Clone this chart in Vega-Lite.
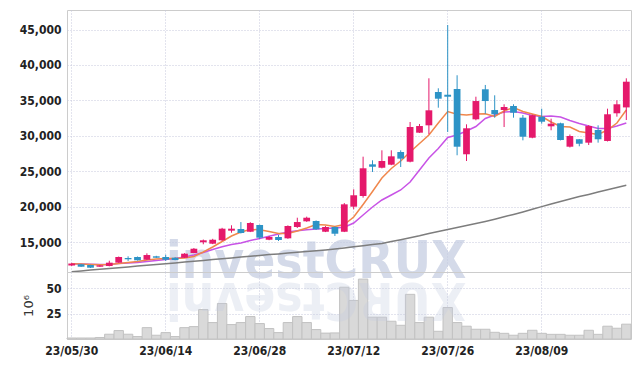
{
  "$schema": "https://vega.github.io/schema/vega-lite/v6.json",
  "padding": {"left": 18, "top": 9, "right": 10, "bottom": 5},
  "spacing": 0,
  "bounds": "flush",
  "background": "#ffffff",
  "config": {
    "view": {"stroke": "#cccccc", "strokeWidth": 1},
    "axis": {
      "labelFont": "DejaVu Sans Condensed",
      "labelFontSize": 12,
      "labelFontWeight": "bold",
      "labelColor": "#222222",
      "gridColor": "#c6c9dc",
      "gridDash": [1, 2],
      "gridWidth": 1,
      "domain": false,
      "ticks": false
    }
  },
  "datasets": {
    "ohlc": [
      {"d": "23/05/30", "o": 11680, "h": 12060, "l": 11610, "c": 11960, "v": 1.0, "ma5": 11935, "ma20": 11935, "ma120": 10805},
      {"d": "23/05/31", "o": 11850, "h": 11900, "l": 11480, "c": 11510, "v": 1.0, "ma5": 11893, "ma20": 11893, "ma120": 10918},
      {"d": "23/06/01", "o": 11750, "h": 11780, "l": 11330, "c": 11370, "v": 1.0, "ma5": 11822, "ma20": 11851, "ma120": 11031},
      {"d": "23/06/02", "o": 11510, "h": 11760, "l": 11480, "c": 11710, "v": 1.5, "ma5": 11780, "ma20": 11822, "ma120": 11144},
      {"d": "23/06/05", "o": 11610, "h": 12360, "l": 11560, "c": 12080, "v": 4.7, "ma5": 11822, "ma20": 11822, "ma120": 11257},
      {"d": "23/06/07", "o": 12080, "h": 12950, "l": 12050, "c": 12880, "v": 8.3, "ma5": 11964, "ma20": 11964, "ma120": 11370},
      {"d": "23/06/08", "o": 12740, "h": 12980, "l": 12320, "c": 12560, "v": 4.7, "ma5": 12105, "ma20": 12034, "ma120": 11483},
      {"d": "23/06/09", "o": 12880, "h": 12950, "l": 12380, "c": 12420, "v": 2.4, "ma5": 12246, "ma20": 12105, "ma120": 11596},
      {"d": "23/06/12", "o": 12500, "h": 13400, "l": 12450, "c": 13160, "v": 11.2, "ma5": 12458, "ma20": 12246, "ma120": 11709},
      {"d": "23/06/13", "o": 12980, "h": 13050, "l": 12750, "c": 12780, "v": 3.7, "ma5": 12599, "ma20": 12387, "ma120": 11822},
      {"d": "23/06/14", "o": 12880, "h": 13200, "l": 12320, "c": 12500, "v": 6.3, "ma5": 12670, "ma20": 12529, "ma120": 11935},
      {"d": "23/06/15", "o": 12780, "h": 12850, "l": 12420, "c": 12460, "v": 2.4, "ma5": 12670, "ma20": 12670, "ma120": 12048},
      {"d": "23/06/16", "o": 12780, "h": 13420, "l": 12740, "c": 13350, "v": 11.2, "ma5": 12740, "ma20": 12881, "ma120": 12175},
      {"d": "23/06/19", "o": 13450, "h": 14150, "l": 13400, "c": 14050, "v": 12.2, "ma5": 12952, "ma20": 13164, "ma120": 12288},
      {"d": "23/06/20", "o": 14960, "h": 15350, "l": 14680, "c": 15240, "v": 29, "ma5": 13588, "ma20": 13517, "ma120": 12401},
      {"d": "23/06/21", "o": 14760, "h": 15450, "l": 14700, "c": 15320, "v": 16.2, "ma5": 14294, "ma20": 13941, "ma120": 12514},
      {"d": "23/06/22", "o": 15240, "h": 17000, "l": 15150, "c": 16880, "v": 35, "ma5": 15071, "ma20": 14322, "ma120": 12641},
      {"d": "23/06/23", "o": 16600, "h": 17360, "l": 16310, "c": 16880, "v": 14.2, "ma5": 15847, "ma20": 14647, "ma120": 12754},
      {"d": "23/06/26", "o": 16840, "h": 17820, "l": 16200, "c": 16270, "v": 16.2, "ma5": 16412, "ma20": 14859, "ma120": 12881},
      {"d": "23/06/27", "o": 16450, "h": 17800, "l": 16400, "c": 17680, "v": 22.1, "ma5": 16766, "ma20": 15212, "ma120": 12994},
      {"d": "23/06/28", "o": 17400, "h": 17450, "l": 15420, "c": 15610, "v": 15.2, "ma5": 16723, "ma20": 15494, "ma120": 13107},
      {"d": "23/06/29", "o": 15320, "h": 15850, "l": 15250, "c": 15710, "v": 10.3, "ma5": 16483, "ma20": 15805, "ma120": 13220},
      {"d": "23/06/30", "o": 15710, "h": 15990, "l": 15140, "c": 15280, "v": 6.3, "ma5": 16201, "ma20": 16130, "ma120": 13319},
      {"d": "23/07/03", "o": 15520, "h": 17350, "l": 15450, "c": 17260, "v": 16.2, "ma5": 16201, "ma20": 16413, "ma120": 13432},
      {"d": "23/07/04", "o": 17120, "h": 18430, "l": 16980, "c": 17820, "v": 22.1, "ma5": 16554, "ma20": 16582, "ma120": 13545},
      {"d": "23/07/05", "o": 17920, "h": 18580, "l": 17850, "c": 18430, "v": 16.2, "ma5": 16978, "ma20": 16723, "ma120": 13644},
      {"d": "23/07/06", "o": 17970, "h": 18050, "l": 16700, "c": 16790, "v": 9.3, "ma5": 17472, "ma20": 16836, "ma120": 13757},
      {"d": "23/07/07", "o": 16450, "h": 17250, "l": 16400, "c": 17120, "v": 5.8, "ma5": 17401, "ma20": 16907, "ma120": 13870},
      {"d": "23/07/10", "o": 17120, "h": 17200, "l": 15850, "c": 16170, "v": 6.0, "ma5": 17189, "ma20": 16978, "ma120": 14011},
      {"d": "23/07/11", "o": 16450, "h": 20500, "l": 16400, "c": 20320, "v": 51, "ma5": 17472, "ma20": 17077, "ma120": 14152},
      {"d": "23/07/12", "o": 19990, "h": 22440, "l": 19620, "c": 21600, "v": 38, "ma5": 18531, "ma20": 17684, "ma120": 14322},
      {"d": "23/07/13", "o": 21500, "h": 27050, "l": 21260, "c": 25410, "v": 59, "ma5": 20297, "ma20": 18814, "ma120": 14477},
      {"d": "23/07/14", "o": 25970, "h": 26540, "l": 24890, "c": 25630, "v": 21.5, "ma5": 22133, "ma20": 19944, "ma120": 14633},
      {"d": "23/07/17", "o": 25490, "h": 27950, "l": 25400, "c": 26440, "v": 21.5, "ma5": 24039, "ma20": 20932, "ma120": 14802},
      {"d": "23/07/18", "o": 25920, "h": 27950, "l": 25850, "c": 27100, "v": 17.5, "ma5": 25381, "ma20": 21639, "ma120": 15056},
      {"d": "23/07/19", "o": 27710, "h": 27950, "l": 25590, "c": 26770, "v": 13.5, "ma5": 26441, "ma20": 22345, "ma120": 15311},
      {"d": "23/07/20", "o": 26340, "h": 31950, "l": 26250, "c": 31240, "v": 44, "ma5": 27712, "ma20": 23475, "ma120": 15593},
      {"d": "23/07/21", "o": 30440, "h": 31670, "l": 30400, "c": 31380, "v": 16.2, "ma5": 28912, "ma20": 25170, "ma120": 15876},
      {"d": "23/07/24", "o": 31480, "h": 38120, "l": 30210, "c": 33600, "v": 21.5, "ma5": 30113, "ma20": 26864, "ma120": 16201},
      {"d": "23/07/25", "o": 36190, "h": 36710, "l": 33970, "c": 35240, "v": 7.6, "ma5": 31808, "ma20": 28206, "ma120": 16483},
      {"d": "23/07/26", "o": 35800, "h": 45650, "l": 30540, "c": 35520, "v": 31, "ma5": 33432, "ma20": 29760, "ma120": 16751},
      {"d": "23/07/27", "o": 36610, "h": 38550, "l": 27250, "c": 28460, "v": 16.2, "ma5": 33037, "ma20": 30113, "ma120": 17034},
      {"d": "23/07/28", "o": 27390, "h": 31620, "l": 26440, "c": 31060, "v": 12.6, "ma5": 32938, "ma20": 30678, "ma120": 17316},
      {"d": "23/07/31", "o": 32330, "h": 35520, "l": 32190, "c": 34910, "v": 9.6, "ma5": 33079, "ma20": 31313, "ma120": 17599},
      {"d": "23/08/01", "o": 36570, "h": 37180, "l": 33120, "c": 34910, "v": 9.6, "ma5": 33121, "ma20": 32443, "ma120": 17909},
      {"d": "23/08/02", "o": 33640, "h": 35720, "l": 32560, "c": 33040, "v": 6.6, "ma5": 32726, "ma20": 32938, "ma120": 18220},
      {"d": "23/08/03", "o": 33640, "h": 34450, "l": 31240, "c": 34070, "v": 5.6, "ma5": 33503, "ma20": 33361, "ma120": 18559},
      {"d": "23/08/04", "o": 34210, "h": 34450, "l": 32560, "c": 33260, "v": 3.7, "ma5": 33997, "ma20": 33432, "ma120": 18898},
      {"d": "23/08/07", "o": 32560, "h": 32940, "l": 29360, "c": 29870, "v": 5.6, "ma5": 33432, "ma20": 33220, "ma120": 19251},
      {"d": "23/08/08", "o": 29730, "h": 33000, "l": 29650, "c": 32900, "v": 8.6, "ma5": 33079, "ma20": 32867, "ma120": 19619},
      {"d": "23/08/09", "o": 32700, "h": 33830, "l": 31710, "c": 31990, "v": 5.6, "ma5": 32726, "ma20": 32726, "ma120": 20000},
      {"d": "23/08/10", "o": 31340, "h": 32420, "l": 30780, "c": 31710, "v": 4.6, "ma5": 31949, "ma20": 32796, "ma120": 20367},
      {"d": "23/08/11", "o": 31770, "h": 31850, "l": 29350, "c": 29410, "v": 4.6, "ma5": 31313, "ma20": 32655, "ma120": 20734},
      {"d": "23/08/14", "o": 28460, "h": 30180, "l": 28350, "c": 29970, "v": 3.7, "ma5": 31243, "ma20": 32161, "ma120": 21074},
      {"d": "23/08/16", "o": 29500, "h": 29550, "l": 28520, "c": 28880, "v": 3.7, "ma5": 30607, "ma20": 31737, "ma120": 21413},
      {"d": "23/08/17", "o": 29030, "h": 31500, "l": 28700, "c": 31380, "v": 8.6, "ma5": 30395, "ma20": 31384, "ma120": 21723},
      {"d": "23/08/18", "o": 30820, "h": 31480, "l": 29030, "c": 29510, "v": 4.6, "ma5": 30183, "ma20": 31031, "ma120": 22062},
      {"d": "23/08/21", "o": 29270, "h": 33830, "l": 29200, "c": 33040, "v": 12.6, "ma5": 30819, "ma20": 31031, "ma120": 22373},
      {"d": "23/08/22", "o": 33180, "h": 35010, "l": 32700, "c": 34450, "v": 10.6, "ma5": 31808, "ma20": 31384, "ma120": 22684},
      {"d": "23/08/23", "o": 34010, "h": 38120, "l": 32230, "c": 37640, "v": 14.6, "ma5": 33644, "ma20": 31808, "ma120": 23009}
    ]
  },
  "vconcat": [
    {
      "width": 564,
      "height": 262,
      "encoding": {
        "x": {
          "field": "d", "type": "ordinal",
          "scale": {"type": "band", "paddingInner": 0, "paddingOuter": 0, "domain": ["23/05/30","23/05/31","23/06/01","23/06/02","23/06/05","23/06/07","23/06/08","23/06/09","23/06/12","23/06/13","23/06/14","23/06/15","23/06/16","23/06/19","23/06/20","23/06/21","23/06/22","23/06/23","23/06/26","23/06/27","23/06/28","23/06/29","23/06/30","23/07/03","23/07/04","23/07/05","23/07/06","23/07/07","23/07/10","23/07/11","23/07/12","23/07/13","23/07/14","23/07/17","23/07/18","23/07/19","23/07/20","23/07/21","23/07/24","23/07/25","23/07/26","23/07/27","23/07/28","23/07/31","23/08/01","23/08/02","23/08/03","23/08/04","23/08/07","23/08/08","23/08/09","23/08/10","23/08/11","23/08/14","23/08/16","23/08/17","23/08/18","23/08/21","23/08/22","23/08/23"]},
          "axis": {"values": ["23/05/30", "23/06/14", "23/06/28", "23/07/12", "23/07/26", "23/08/09"], "labels": false, "title": null, "grid": true, "bandPosition": 0.5}
        }
      },
      "layer": [
        {
          "data": {"values": [{"t": "investCRUX"}]},
          "mark": {"type": "text", "font": "DejaVu Sans Condensed", "fontWeight": "bold", "fontSize": 51, "align": "center", "baseline": "alphabetic", "fill": "#c3cbe0", "opacity": 0.7},
          "encoding": {
            "x": {"datum": "23/07/06"},
            "y": {"datum": 9850, "type": "quantitative", "scale": {"domain": [10763, 47768], "nice": false, "zero": false}, "axis": {"values": [15000, 20000, 25000, 30000, 35000, 40000, 45000], "format": ",d", "title": null, "grid": true, "labelPadding": 6}},
            "text": {"field": "t"}
          }
        },
        {
          "data": {"name": "ohlc"},
          "mark": {"type": "line", "color": "#7d7d7d", "strokeWidth": 1.5},
          "encoding": {
            "y": {"field": "ma120", "type": "quantitative", "scale": {"domain": [10763, 47768], "nice": false, "zero": false}, "axis": {"values": [15000, 20000, 25000, 30000, 35000, 40000, 45000], "format": ",d", "title": null, "grid": true, "labelPadding": 6}}
          }
        },
        {
          "data": {"name": "ohlc"},
          "mark": {"type": "line", "color": "#c853e6", "strokeWidth": 1.5},
          "encoding": {
            "y": {"field": "ma20", "type": "quantitative", "scale": {"domain": [10763, 47768], "nice": false, "zero": false}, "axis": {"values": [15000, 20000, 25000, 30000, 35000, 40000, 45000], "format": ",d", "title": null, "grid": true, "labelPadding": 6}}
          }
        },
        {
          "data": {"name": "ohlc"},
          "mark": {"type": "line", "color": "#f0874c", "strokeWidth": 1.5},
          "encoding": {
            "y": {"field": "ma5", "type": "quantitative", "scale": {"domain": [10763, 47768], "nice": false, "zero": false}, "axis": {"values": [15000, 20000, 25000, 30000, 35000, 40000, 45000], "format": ",d", "title": null, "grid": true, "labelPadding": 6}}
          }
        },
        {
          "data": {"name": "ohlc"},
          "mark": {"type": "rule", "strokeWidth": 1},
          "encoding": {
            "y": {"field": "l", "type": "quantitative", "scale": {"domain": [10763, 47768], "nice": false, "zero": false}, "axis": {"values": [15000, 20000, 25000, 30000, 35000, 40000, 45000], "format": ",d", "title": null, "grid": true, "labelPadding": 6}},
            "y2": {"field": "h"},
            "color": {"condition": {"test": "datum.c >= datum.o", "value": "#e5196b"}, "value": "#2d93c6"}
          }
        },
        {
          "data": {"name": "ohlc"},
          "mark": {"type": "bar", "width": {"band": 0.72}},
          "encoding": {
            "y": {"field": "o", "type": "quantitative", "scale": {"domain": [10763, 47768], "nice": false, "zero": false}, "axis": {"values": [15000, 20000, 25000, 30000, 35000, 40000, 45000], "format": ",d", "title": null, "grid": true, "labelPadding": 6}},
            "y2": {"field": "c"},
            "color": {"condition": {"test": "datum.c >= datum.o", "value": "#e5196b"}, "value": "#2d93c6"}
          }
        }
      ]
    },
    {
      "width": 564,
      "height": 67,
      "encoding": {
        "x": {
          "field": "d", "type": "ordinal",
          "scale": {"type": "band", "paddingInner": 0, "paddingOuter": 0, "domain": ["23/05/30","23/05/31","23/06/01","23/06/02","23/06/05","23/06/07","23/06/08","23/06/09","23/06/12","23/06/13","23/06/14","23/06/15","23/06/16","23/06/19","23/06/20","23/06/21","23/06/22","23/06/23","23/06/26","23/06/27","23/06/28","23/06/29","23/06/30","23/07/03","23/07/04","23/07/05","23/07/06","23/07/07","23/07/10","23/07/11","23/07/12","23/07/13","23/07/14","23/07/17","23/07/18","23/07/19","23/07/20","23/07/21","23/07/24","23/07/25","23/07/26","23/07/27","23/07/28","23/07/31","23/08/01","23/08/02","23/08/03","23/08/04","23/08/07","23/08/08","23/08/09","23/08/10","23/08/11","23/08/14","23/08/16","23/08/17","23/08/18","23/08/21","23/08/22","23/08/23"]},
          "axis": {"values": ["23/05/30", "23/06/14", "23/06/28", "23/07/12", "23/07/26", "23/08/09"], "labels": true, "labelAngle": 0, "labelPadding": 6, "title": null, "grid": true, "bandPosition": 0.5}
        }
      },
      "layer": [
        {
          "data": {"name": "ohlc"},
          "mark": {"type": "bar", "fill": "#d9d9d9", "stroke": "#c2c2c2", "strokeWidth": 1},
          "encoding": {
            "y": {"field": "v", "type": "quantitative", "scale": {"domain": [0, 66], "nice": false}, "axis": {"values": [25, 50], "format": "d", "title": "10⁶", "titleFont": "DejaVu Sans", "titleFontWeight": "normal", "titleFontSize": 13, "titleColor": "#333333", "titlePadding": 10, "grid": true, "labelPadding": 6}}
          }
        },
        {
          "data": {"values": [{"t": "XURCtsevni"}]},
          "mark": {"type": "text", "font": "DejaVu Sans Condensed", "fontWeight": "bold", "fontSize": 51, "align": "center", "baseline": "alphabetic", "angle": 180, "fill": "#c3cbe0", "opacity": 0.3},
          "encoding": {
            "x": {"datum": "23/07/06"},
            "y": {"datum": 55, "type": "quantitative"},
            "text": {"field": "t"}
          }
        }
      ]
    }
  ]
}
